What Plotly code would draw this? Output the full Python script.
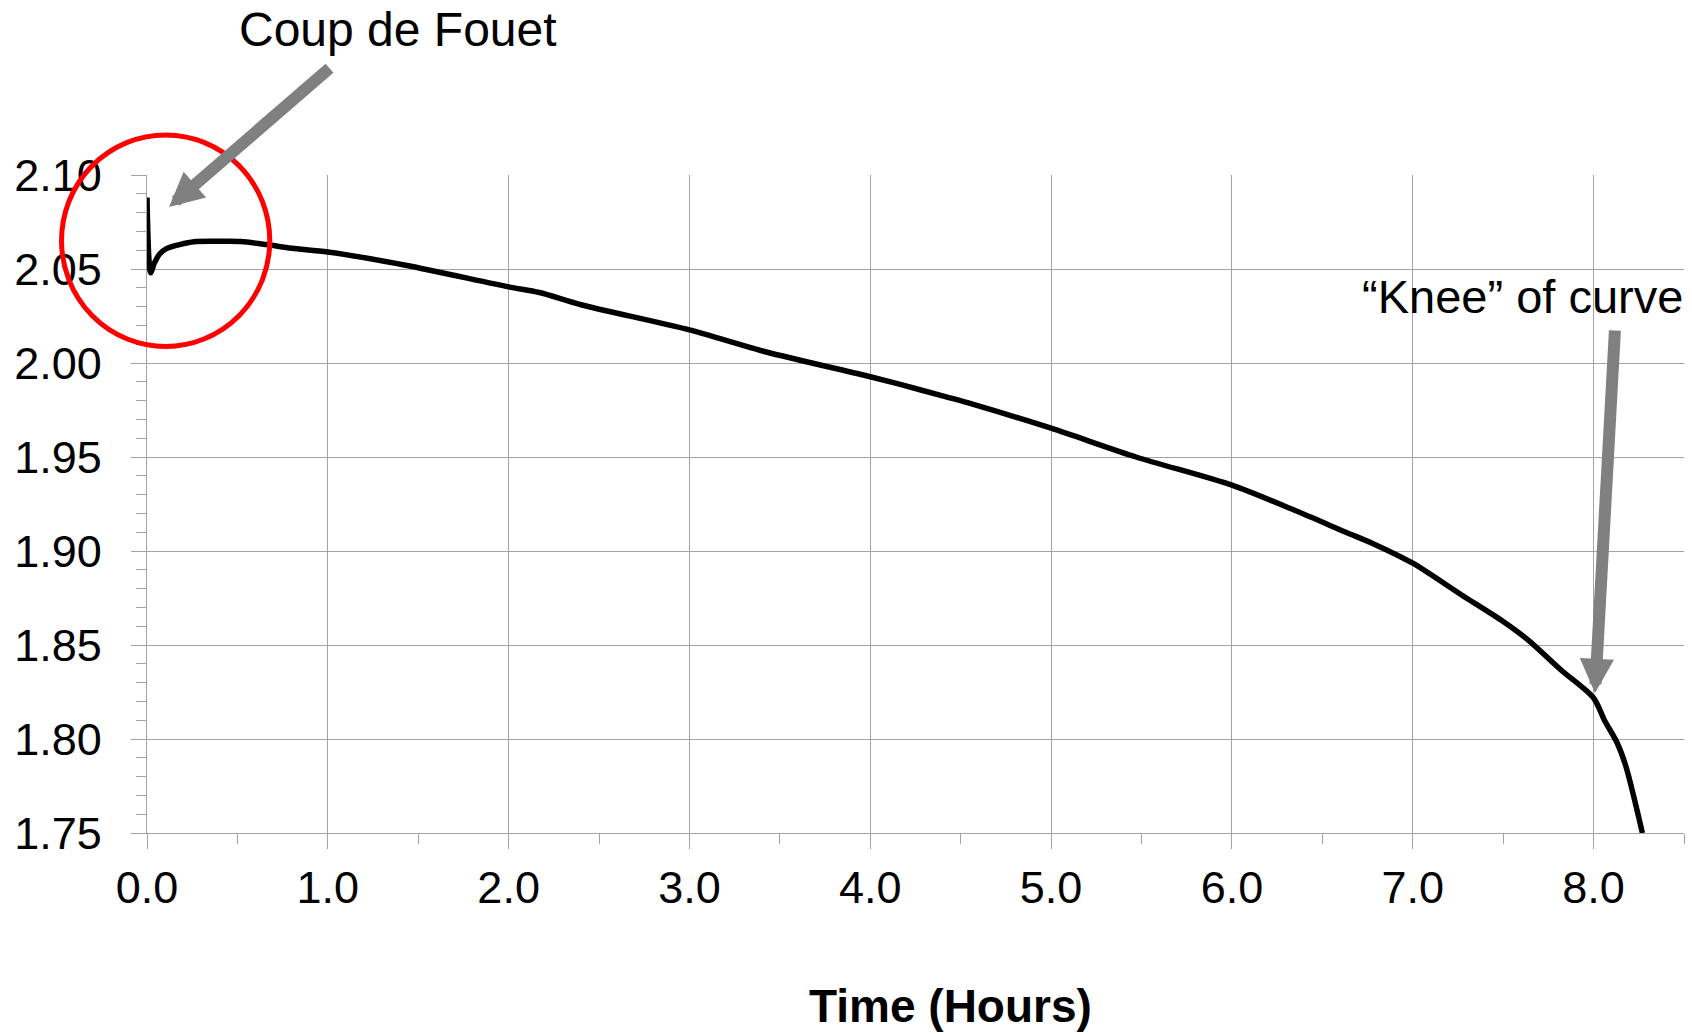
import plotly.graph_objects as go

# Discharge curve
time_hours = [0.0, 0.02, 0.04, 0.07, 0.11, 0.18, 0.26, 0.40, 0.52, 0.66, 0.80, 1.0,
              1.43, 2.0, 2.17, 2.4, 3.0, 3.42, 4.0, 4.15, 4.42, 4.57, 5.0, 5.47,
              6.0, 6.35, 6.63, 6.79, 7.0, 7.27, 7.5, 7.64, 7.82, 8.0, 8.06, 8.13,
              8.18, 8.27]
voltage = [2.088, 2.048, 2.053, 2.058, 2.061, 2.063, 2.0645, 2.0647, 2.0646, 2.063, 2.061, 2.059,
           2.052, 2.0405, 2.0375, 2.031, 2.0176, 2.006, 1.9927, 1.989, 1.982, 1.978, 1.9653, 1.950,
           1.935, 1.9215, 1.910, 1.9035, 1.8935, 1.8766, 1.8625, 1.8525, 1.8367, 1.8218, 1.810, 1.798,
           1.785, 1.75]

x_tick_vals = [0, 1, 2, 3, 4, 5, 6, 7, 8]
x_tick_text = ["0.0", "1.0", "2.0", "3.0", "4.0", "5.0", "6.0", "7.0", "8.0"]
y_tick_vals = [1.75, 1.80, 1.85, 1.90, 1.95, 2.00, 2.05, 2.10]
y_tick_text = ["1.75", "1.80", "1.85", "1.90", "1.95", "2.00", "2.05", "2.10"]

x_title = "Time (Hours)"
label_coup = "Coup de Fouet"
label_knee = "\u201cKnee\u201d of curve"

FONT = "Liberation Sans, Arial, sans-serif"
GRID = "#a3a3a3"

fig = go.Figure()
fig.add_trace(go.Scatter(x=time_hours, y=voltage, mode="lines",
                         line=dict(color="black", width=5.5, shape="spline", smoothing=0.8),
                         hoverinfo="skip", showlegend=False))

W, H = 1692, 1034
ML, MR, MT, MB = 147, 8, 175, 201
PW, PH = W - ML - MR, H - MT - MB

def px_x(px):
    return (px - ML) / PW

def px_y(py):
    return (H - MB - py) / PH

fig.update_layout(
    width=W, height=H,
    margin=dict(l=ML, r=MR, t=MT, b=MB, pad=0),
    paper_bgcolor="white", plot_bgcolor="white",
    font=dict(family=FONT, color="black", size=45),
    showlegend=False,
    hovermode=False,
    xaxis=dict(
        range=[0, 8.5], tickvals=x_tick_vals, ticktext=x_tick_text,
        showgrid=True, gridcolor=GRID, gridwidth=1.3,
        showline=True, linecolor=GRID, linewidth=1.3,
        ticks="outside", ticklen=15, tickcolor=GRID, tickwidth=1.3,
        tickfont=dict(size=45, family=FONT, color="black"),
        ticklabelstandoff=0,
        minor=dict(dtick=0.5, tick0=0, ticks="outside", ticklen=10,
                   tickcolor=GRID, tickwidth=1.3, showgrid=False),
        zeroline=False, fixedrange=True,
    ),
    yaxis=dict(
        range=[1.75, 2.10], tickvals=y_tick_vals, ticktext=y_tick_text,
        showgrid=True, gridcolor=GRID, gridwidth=1.3,
        showline=True, linecolor=GRID, linewidth=1.3,
        ticks="outside", ticklen=15, tickcolor=GRID, tickwidth=1.3,
        tickfont=dict(size=45, family=FONT, color="black"),
        ticklabelstandoff=20,
        minor=dict(dtick=0.01, tick0=1.75, ticks="outside", ticklen=10,
                   tickcolor=GRID, tickwidth=1.3, showgrid=False),
        zeroline=False, fixedrange=True,
    ),
)

# Red circle around the coup de fouet
fig.add_shape(type="circle", xref="paper", yref="paper",
              x0=px_x(61.5), x1=px_x(269.8), y0=px_y(346.4), y1=px_y(134.9),
              line=dict(color="#ff0000", width=5), layer="above")

# Labels
fig.add_annotation(text=label_coup, xref="paper", yref="paper",
                   x=px_x(398), y=px_y(30), xanchor="center", yanchor="middle",
                   showarrow=False, font=dict(size=48, family=FONT, color="black"))
fig.add_annotation(text=label_knee, xref="paper", yref="paper",
                   x=px_x(1522), y=px_y(296), xanchor="center", yanchor="middle",
                   showarrow=False, font=dict(size=47, family=FONT, color="black"))
fig.add_annotation(text="<b>" + x_title + "</b>", xref="paper", yref="paper",
                   x=px_x(950), y=px_y(1006), xanchor="center", yanchor="middle",
                   showarrow=False, font=dict(size=46, family=FONT, color="black"))

# Arrows
fig.add_annotation(text="", xref="paper", yref="paper",
                   x=px_x(169), y=px_y(207), ax=331 - 169, ay=67 - 207,
                   showarrow=True, arrowhead=2, arrowsize=0.57, arrowwidth=12,
                   arrowcolor="#808080", standoff=0)
fig.add_annotation(text="", xref="paper", yref="paper",
                   x=px_x(1595), y=px_y(693), ax=1615 - 1595, ay=329 - 693,
                   showarrow=True, arrowhead=2, arrowsize=0.57, arrowwidth=12,
                   arrowcolor="#808080", standoff=0)

fig.write_html("out.html", config={"displayModeBar": False},
               post_script="document.body.style.margin='0px';document.body.style.overflow='hidden';")
